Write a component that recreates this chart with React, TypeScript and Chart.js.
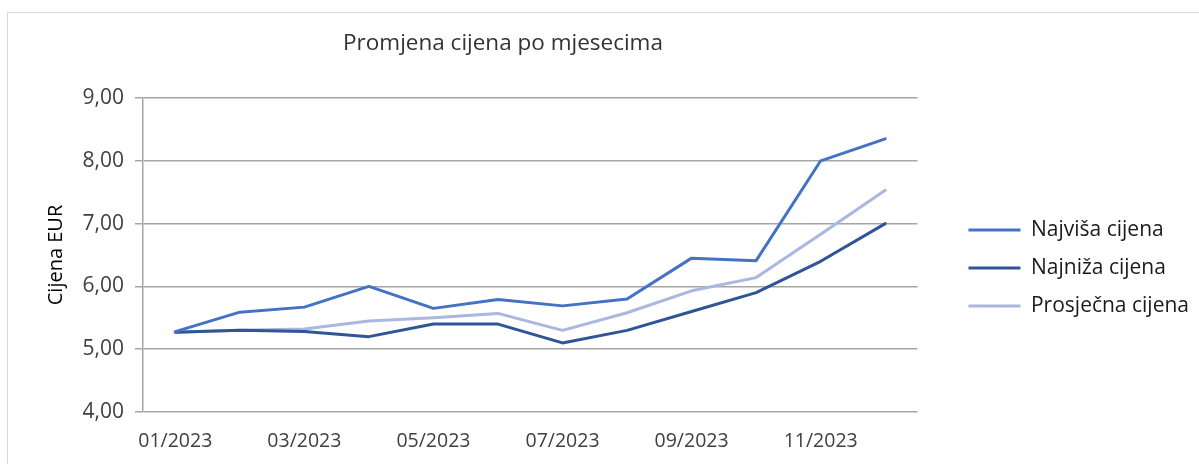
import React, { useEffect, useRef } from "react";
import { Chart, registerables } from "chart.js";

Chart.register(...registerables);

const TITLE = "Promjena cijena po mjesecima";
const Y_TITLE = "Cijena EUR";
const categories = [
  "01/2023", "02/2023", "03/2023", "04/2023", "05/2023", "06/2023",
  "07/2023", "08/2023", "09/2023", "10/2023", "11/2023", "12/2023",
];
const najvisa = [5.28, 5.59, 5.67, 6.0, 5.65, 5.79, 5.69, 5.8, 6.45, 6.41, 8.0, 8.35];
const najniza = [5.27, 5.3, 5.28, 5.2, 5.4, 5.4, 5.1, 5.3, 5.6, 5.9, 6.4, 7.0];
const prosjecna = [5.27, 5.3, 5.32, 5.45, 5.5, 5.57, 5.3, 5.58, 5.93, 6.14, 6.83, 7.53];
const seriesNames = ["Najviša cijena", "Najniža cijena", "Prosječna cijena"];
const seriesColors = ["#4472C4", "#2F5597", "#A9B7E1"];

const FONT = "'Open Sans', 'Noto Sans', sans-serif";
const TEXT = "#404040";
const DARK = "#1A1A1A";
const GRID = "#A6A6A6";
const LEGEND_GAP = 34;
const LEGEND_SHIFT_Y = -13;

export default function App() {
  const ref = useRef<HTMLCanvasElement | null>(null);
  useEffect(() => {
    if (!ref.current) return;
    const titlePlugin = {
      id: "customTitle",
      afterDraw(chart: any) {
        const { ctx } = chart;
        ctx.save();
        ctx.fillStyle = "#333333";
        ctx.font = `22.5px ${FONT}`;
        ctx.textAlign = "center";
        ctx.textBaseline = "middle";
        ctx.fillText(TITLE, 503, 44);
        ctx.restore();
      },
    };
    const legendGapPlugin = {
      id: "legendGap",
      afterInit(chart: any) {
        const legend = chart.legend;
        if (!legend || legend.__wrapped) return;
        const origFit = legend.fit.bind(legend);
        legend.fit = function () {
          origFit();
          this.width += LEGEND_GAP;
        };
        legend.__wrapped = true;
      },
      afterLayout(chart: any) {
        const legend = chart.legend;
        if (!legend) return;
        legend.left += LEGEND_GAP;
        legend.top += LEGEND_SHIFT_Y;
        legend.bottom += LEGEND_SHIFT_Y;
      },
    };
    const chart = new Chart(ref.current, {
      type: "line",
      data: {
        labels: categories,
        datasets: [najvisa, najniza, prosjecna].map((d, i) => ({
          label: seriesNames[i],
          data: d,
          borderColor: seriesColors[i],
          backgroundColor: seriesColors[i],
          borderWidth: 3,
          pointRadius: 0,
          tension: 0,
          borderJoinStyle: "round" as const,
          borderCapStyle: "round" as const,
        })),
      },
      options: {
        responsive: false,
        animation: false,
        layout: { padding: { left: 8, top: 98, right: 0, bottom: 0 } },
        plugins: {
          title: { display: false },
          tooltip: { enabled: false },
          legend: {
            position: "right",
            labels: {
              boxWidth: 52,
              boxHeight: 3,
              padding: 17,
              color: DARK,
              font: { family: FONT, size: 21 },
              generateLabels(chart: any) {
                const items = Chart.defaults.plugins.legend.labels.generateLabels(chart);
                return items.map((it: any) => ({ ...it, lineWidth: 0 }));
              },
            },
          },
        },
        scales: {
          x: {
            offset: true,
            grid: { display: false, drawTicks: false },
            border: { display: false },
            afterFit(s: any) { s.height = 52; },
            ticks: {
              autoSkip: false,
              maxRotation: 0,
              padding: 18,
              color: TEXT,
              font: { family: FONT, size: 19.5 },
              callback(_v: any, i: number) { return i % 2 === 0 ? categories[i] : ""; },
            },
          },
          y: {
            min: 4,
            max: 9,
            afterFit(s: any) { s.width = 135; },
            grid: { color: GRID, lineWidth: 1.5, tickLength: 8 },
            border: { display: true, color: GRID, width: 1.5 },
            title: {
              display: true,
              text: Y_TITLE,
              color: "#000000",
              font: { family: FONT, size: 20, weight: 500 },
              padding: { top: 36, bottom: 0 },
            },
            ticks: {
              stepSize: 1,
              padding: 11,
              color: TEXT,
              font: { family: FONT, size: 21 },
              callback(v: any) { return Number(v).toFixed(2).replace(".", ","); },
            },
          },
        },
      },
      plugins: [titlePlugin, legendGapPlugin],
    });
    return () => chart.destroy();
  }, []);
  return (
    <div style={{ position: "absolute", left: 0, top: 0, width: 1199, height: 464, background: "#fff" }}>
      <div style={{ position: "absolute", left: 7, top: 12, right: -2, bottom: -2, borderLeft: "1px solid #D9D9D9", borderTop: "1px solid #D9D9D9" }} />
      <canvas ref={ref} width={1199} height={464} style={{ position: "absolute", left: 0, top: 0 }} />
    </div>
  );
}
